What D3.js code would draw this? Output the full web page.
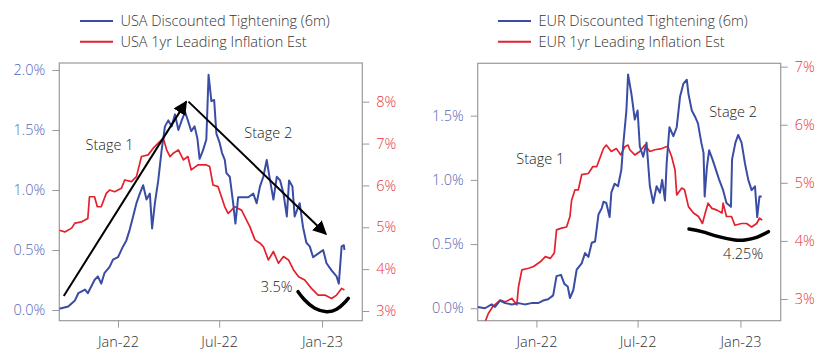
<!DOCTYPE html>
<meta charset="utf-8">
<style>
body { margin: 0; background: #fff; }
text { font-family: "Open Sans", Lato, sans-serif; font-weight: 300; }
</style>
<body>
<script src="https://cdn.jsdelivr.net/npm/d3@7"></script>
<script>

var parseDate = d3.timeParse("%Y-%m-%d");

// shared x range of both panels
var xStart = "2021-09-18", xEnd = "2023-03-14";
var xTickDates = ["2022-01-01", "2022-07-01", "2023-01-01"];

// USA panel
var usaLegend = ["USA Discounted Tightening (6m)", "USA 1yr Leading Inflation Est"];
var usaLeftTicks = [0, 0.5, 1.0, 1.5, 2.0];
var usaRightTicks = [3, 4, 5, 6, 7, 8];
var usaTightening = [
  ["2021-09-18",0.01],["2021-10-04",0.03],["2021-10-16",0.08],["2021-10-22",0.14],["2021-11-03",0.17],
  ["2021-11-08",0.14],["2021-11-20",0.25],["2021-11-26",0.28],["2021-12-02",0.22],["2021-12-08",0.31],
  ["2021-12-17",0.36],["2021-12-23",0.42],["2022-01-01",0.44],["2022-01-10",0.53],["2022-01-16",0.58],
  ["2022-01-22",0.67],["2022-01-28",0.78],["2022-02-03",0.89],["2022-02-09",0.97],["2022-02-15",1.04],
  ["2022-02-21",0.92],["2022-02-27",0.97],["2022-03-03",0.68],["2022-03-08",0.89],["2022-03-14",1.08],
  ["2022-03-20",1.33],["2022-03-26",1.53],["2022-04-01",1.58],["2022-04-07",1.53],["2022-04-13",1.63],
  ["2022-04-19",1.50],["2022-04-25",1.58],["2022-05-01",1.65],["2022-05-06",1.58],["2022-05-12",1.49],
  ["2022-05-18",1.53],["2022-05-23",1.43],["2022-05-27",1.26],["2022-06-02",1.33],["2022-06-08",1.42],
  ["2022-06-12",1.96],["2022-06-17",1.74],["2022-06-22",1.75],["2022-06-26",1.47],["2022-07-02",1.39],
  ["2022-07-06",1.31],["2022-07-11",1.25],["2022-07-14",1.14],["2022-07-20",1.11],["2022-07-26",0.89],
  ["2022-07-30",0.72],["2022-08-04",0.94],["2022-08-13",0.94],["2022-08-22",0.94],["2022-08-31",0.97],
  ["2022-09-06",0.89],["2022-09-12",1.03],["2022-09-18",1.11],["2022-09-24",1.25],["2022-09-30",1.08],
  ["2022-10-06",0.92],["2022-10-12",1.11],["2022-10-18",1.08],["2022-10-24",0.97],["2022-10-30",0.78],
  ["2022-11-03",1.08],["2022-11-09",1.03],["2022-11-13",0.78],["2022-11-22",0.89],["2022-11-28",0.69],
  ["2022-12-04",0.56],["2022-12-10",0.53],["2022-12-16",0.44],["2022-12-25",0.47],["2023-01-03",0.50],
  ["2023-01-09",0.39],["2023-01-18",0.33],["2023-01-27",0.28],["2023-01-31",0.22],["2023-02-05",0.53],
  ["2023-02-09",0.54],["2023-02-10",0.50]
];
var usaInflation = [
  ["2021-09-18",4.93],["2021-09-28",4.89],["2021-10-10",4.98],["2021-10-16",5.10],["2021-10-28",5.13],
  ["2021-11-08",5.21],["2021-11-11",5.73],["2021-11-20",5.73],["2021-11-25",5.49],["2021-12-02",5.49],
  ["2021-12-11",5.81],["2021-12-17",5.89],["2021-12-26",5.85],["2022-01-07",5.93],["2022-01-13",6.13],
  ["2022-01-25",6.09],["2022-02-03",6.21],["2022-02-12",6.69],["2022-02-24",6.73],["2022-03-05",6.89],
  ["2022-03-14",7.01],["2022-03-23",7.13],["2022-03-29",6.85],["2022-04-04",6.69],["2022-04-10",6.77],
  ["2022-04-19",6.85],["2022-04-28",6.61],["2022-05-06",6.69],["2022-05-12",6.37],["2022-05-24",6.49],
  ["2022-06-08",6.49],["2022-06-14",6.45],["2022-06-20",6.01],["2022-06-29",5.97],["2022-07-05",5.73],
  ["2022-07-11",5.49],["2022-07-17",5.33],["2022-07-23",5.41],["2022-07-29",5.49],["2022-08-04",5.45],
  ["2022-08-10",5.41],["2022-08-16",5.25],["2022-08-25",5.01],["2022-09-03",4.70],["2022-09-12",4.62],
  ["2022-09-18",4.54],["2022-09-27",4.22],["2022-10-06",4.42],["2022-10-15",4.14],["2022-10-24",4.30],
  ["2022-11-02",4.22],["2022-11-11",3.98],["2022-11-20",3.82],["2022-12-01",3.74],["2022-12-13",3.54],
  ["2022-12-25",3.38],["2023-01-06",3.38],["2023-01-18",3.30],["2023-01-27",3.38],["2023-02-05",3.54],
  ["2023-02-10",3.50]
];

// EUR panel
var eurLegend = ["EUR Discounted Tightening (6m)", "EUR 1yr Leading Inflation Est"];
var eurLeftTicks = [0, 0.5, 1.0, 1.5];
var eurRightTicks = [3, 4, 5, 6, 7];
var eurTightening = [
  ["2021-09-18",0.01],["2021-10-01",0.00],["2021-10-13",0.03],["2021-10-19",0.01],["2021-10-28",0.06],
  ["2021-11-06",0.04],["2021-11-18",0.03],["2021-11-30",0.04],["2021-12-11",0.03],["2021-12-23",0.04],
  ["2022-01-04",0.04],["2022-01-13",0.06],["2022-01-22",0.07],["2022-01-31",0.10],["2022-02-06",0.25],
  ["2022-02-14",0.26],["2022-02-20",0.19],["2022-02-26",0.17],["2022-03-02",0.08],["2022-03-08",0.14],
  ["2022-03-14",0.30],["2022-03-23",0.35],["2022-03-29",0.43],["2022-04-04",0.40],["2022-04-10",0.51],
  ["2022-04-16",0.52],["2022-04-22",0.73],["2022-04-28",0.78],["2022-05-01",0.83],["2022-05-06",0.82],
  ["2022-05-12",0.71],["2022-05-15",0.90],["2022-05-21",0.97],["2022-05-27",0.95],["2022-06-02",1.08],
  ["2022-06-05",1.26],["2022-06-11",1.54],["2022-06-14",1.82],["2022-06-20",1.67],["2022-06-26",1.47],
  ["2022-07-01",1.54],["2022-07-05",1.26],["2022-07-11",1.18],["2022-07-17",1.29],["2022-07-23",0.95],
  ["2022-07-29",0.82],["2022-08-04",0.95],["2022-08-10",0.90],["2022-08-14",1.00],["2022-08-19",0.84],
  ["2022-08-22",1.13],["2022-08-27",1.41],["2022-09-03",1.34],["2022-09-09",1.41],["2022-09-15",1.65],
  ["2022-09-21",1.75],["2022-09-27",1.78],["2022-09-30",1.67],["2022-10-06",1.54],["2022-10-12",1.49],
  ["2022-10-17",1.44],["2022-10-23",1.29],["2022-10-27",1.21],["2022-10-29",0.87],["2022-11-02",1.10],
  ["2022-11-06",1.23],["2022-11-12",1.16],["2022-11-18",1.08],["2022-11-24",1.00],["2022-12-01",0.92],
  ["2022-12-07",0.82],["2022-12-15",0.79],["2022-12-17",1.16],["2022-12-23",1.29],["2022-12-28",1.35],
  ["2023-01-03",1.29],["2023-01-09",1.13],["2023-01-15",1.00],["2023-01-21",0.92],["2023-01-27",0.95],
  ["2023-01-31",0.71],["2023-02-04",0.87],["2023-02-08",0.87]
];
var eurInflation = [
  ["2021-10-01",2.60],["2021-10-07",2.75],["2021-10-15",2.87],["2021-10-28",2.98],["2021-11-06",2.95],
  ["2021-11-18",3.01],["2021-11-27",2.90],["2021-11-30",3.21],["2021-12-06",3.50],["2021-12-18",3.53],
  ["2021-12-27",3.56],["2022-01-08",3.64],["2022-01-17",3.73],["2022-01-26",3.70],["2022-02-02",3.79],
  ["2022-02-06",4.19],["2022-02-15",4.22],["2022-02-24",4.24],["2022-03-02",4.42],["2022-03-05",4.70],
  ["2022-03-11",4.88],["2022-03-17",4.88],["2022-03-23",5.14],["2022-04-04",5.16],["2022-04-12",5.28],
  ["2022-04-19",5.28],["2022-05-01",5.59],["2022-05-06",5.65],["2022-05-15",5.54],["2022-05-24",5.59],
  ["2022-06-01",5.48],["2022-06-08",5.62],["2022-06-14",5.65],["2022-06-17",5.57],["2022-06-26",5.48],
  ["2022-07-05",5.54],["2022-07-14",5.65],["2022-07-23",5.54],["2022-08-01",5.57],["2022-08-13",5.59],
  ["2022-08-24",5.63],["2022-08-31",5.45],["2022-09-06",5.22],["2022-09-09",4.79],["2022-09-18",4.91],
  ["2022-09-23",4.88],["2022-09-30",4.59],["2022-10-09",4.48],["2022-10-18",4.42],["2022-10-25",4.30],
  ["2022-10-30",4.48],["2022-11-04",4.65],["2022-11-11",4.56],["2022-11-20",4.53],["2022-11-29",4.48],
  ["2022-12-01",4.65],["2022-12-07",4.42],["2022-12-16",4.42],["2022-12-22",4.27],["2023-01-03",4.30],
  ["2023-01-12",4.30],["2023-01-21",4.24],["2023-01-30",4.30],["2023-02-04",4.39],["2023-02-09",4.36]
];

// annotations, in data units (left axis for arrows/text, right axis for the EUR curve)
var usaArrows = [
  [["2021-09-26",0.117],["2022-05-03",1.736]],
  [["2022-05-07",1.736],["2023-01-08",0.633]]
];
var usaCurve = [["2022-11-19",0.153],["2022-12-01",0.083],["2022-12-19",0.014],["2023-01-09",-0.014],
  ["2023-01-27",0.006],["2023-02-10",0.061],["2023-02-17",0.098]];
var usaNotes = [["Stage 1","2021-11-04",1.333,"start"],["Stage 2","2022-08-15",1.433,"start"],["3.5%","2022-11-09",0.153,"end"]];
var eurCurve = [["2022-10-01",4.205],["2022-10-24",4.159],["2022-11-23",4.073],["2022-12-22",4.016],
  ["2023-01-09",4.016],["2023-01-30",4.062],["2023-02-20",4.159]];
var eurNotes = [["Stage 1","2021-11-26",1.121,"start"],["Stage 2","2022-11-06",1.492,"start"],["4.25%","2022-12-01",0.384,"start"]];

var blue = "#3a4da5", red = "#e4202d", blueText = "#5567b5", redText = "#e5353d", grey = "#9a9a9a";
var fontSize = 14.5;

var svg = d3.select("body").append("svg")
    .attr("width", 840)
    .attr("height", 360);

svg.append("defs").append("marker")
    .attr("id", "arrow")
    .attr("viewBox", "0 0 10 10")
    .attr("refX", 9).attr("refY", 5)
    .attr("markerWidth", 7).attr("markerHeight", 7)
    .attr("markerUnits", "strokeWidth")
    .attr("orient", "auto")
  .append("path")
    .attr("d", "M0,0L10,5L0,10z")
    .attr("fill", "#000");

var panels = [
  {id: "usa", left: 59.3, right: 362.3, top: 63, bottom: 320.7, legendX: 80,
   leftDomain: [-0.089, 2.058], rightDomain: [2.768, 8.925],
   legend: usaLegend, leftTicks: usaLeftTicks, rightTicks: usaRightTicks,
   tight: usaTightening, infl: usaInflation, arrows: usaArrows, curve: usaCurve, curveAxis: "left", notes: usaNotes},
  {id: "eur", left: 477.7, right: 780.7, top: 63.3, bottom: 320.7, legendX: 498,
   leftDomain: [-0.097, 1.908], rightDomain: [2.626, 7.058],
   legend: eurLegend, leftTicks: eurLeftTicks, rightTicks: eurRightTicks,
   tight: eurTightening, infl: eurInflation, arrows: [], curve: eurCurve, curveAxis: "right", notes: eurNotes}
];

panels.forEach(function(p) {
  var x = d3.scaleTime()
      .domain([parseDate(xStart), parseDate(xEnd)])
      .range([p.left, p.right]);
  var yL = d3.scaleLinear().domain(p.leftDomain).range([p.bottom, p.top]);
  var yR = d3.scaleLinear().domain(p.rightDomain).range([p.bottom, p.top]);

  // legend
  var leg = svg.append("g");
  [blue, red].forEach(function(c, i) {
    leg.append("line")
      .attr("x1", p.legendX).attr("x2", p.legendX + 33)
      .attr("y1", 21 + i * 20.7).attr("y2", 21 + i * 20.7)
      .attr("stroke", c).attr("stroke-width", 2);
    leg.append("text")
      .attr("x", p.legendX + 40.5).attr("y", 26 + i * 20.7)
      .attr("font-size", fontSize).attr("fill", "#333")
      .text(p.legend[i]);
  });

  // axes
  var gx = svg.append("g")
      .attr("transform", "translate(0," + p.bottom + ")")
      .call(d3.axisBottom(x)
        .tickValues(xTickDates.map(parseDate))
        .tickFormat(d3.timeFormat("%b-%y"))
        .tickSize(7).tickSizeOuter(0).tickPadding(9));
  var gl = svg.append("g")
      .attr("transform", "translate(" + p.left + ",0)")
      .call(d3.axisLeft(yL)
        .tickValues(p.leftTicks)
        .tickFormat(function(d) { return d3.format(".1f")(d) + "%"; })
        .tickSize(7).tickSizeOuter(0).tickPadding(7));
  var gr = svg.append("g")
      .attr("transform", "translate(" + p.right + ",0)")
      .call(d3.axisRight(yR)
        .tickValues(p.rightTicks)
        .tickFormat(function(d) { return d + "%"; })
        .tickSize(7).tickSizeOuter(0).tickPadding(7));

  [gx, gl, gr].forEach(function(g) {
    g.select(".domain").remove();
    g.selectAll(".tick line").attr("stroke", grey);
    g.selectAll(".tick text").attr("font-size", fontSize).attr("font-family", null);
  });
  gx.selectAll(".tick text").attr("fill", "#333");
  gl.selectAll(".tick text").attr("fill", blueText);
  gr.selectAll(".tick text").attr("fill", redText);

  // plot box
  svg.append("rect")
    .attr("x", p.left).attr("y", p.top)
    .attr("width", p.right - p.left).attr("height", p.bottom - p.top)
    .attr("fill", "none").attr("stroke", grey).attr("stroke-width", 1.2);

  svg.append("clipPath").attr("id", "clip-" + p.id)
    .append("rect")
    .attr("x", p.left).attr("y", p.top)
    .attr("width", p.right - p.left).attr("height", p.bottom - p.top);

  var plot = svg.append("g").attr("clip-path", "url(#clip-" + p.id + ")");

  var lineL = d3.line()
      .x(function(d) { return x(parseDate(d[0])); })
      .y(function(d) { return yL(d[1]); });
  var lineR = d3.line()
      .x(function(d) { return x(parseDate(d[0])); })
      .y(function(d) { return yR(d[1]); });

  plot.append("path")
    .datum(p.infl)
    .attr("d", lineR)
    .attr("fill", "none").attr("stroke", red).attr("stroke-width", 1.7)
    .attr("stroke-linejoin", "round");
  plot.append("path")
    .datum(p.tight)
    .attr("d", lineL)
    .attr("fill", "none").attr("stroke", blue).attr("stroke-width", 2)
    .attr("stroke-linejoin", "round");

  // annotations
  p.arrows.forEach(function(a) {
    svg.append("line")
      .attr("x1", x(parseDate(a[0][0]))).attr("y1", yL(a[0][1]))
      .attr("x2", x(parseDate(a[1][0]))).attr("y2", yL(a[1][1]))
      .attr("stroke", "#000").attr("stroke-width", 2)
      .attr("marker-end", "url(#arrow)");
  });

  var yc = p.curveAxis == "left" ? yL : yR;
  svg.append("path")
    .datum(p.curve)
    .attr("d", d3.line()
      .x(function(d) { return x(parseDate(d[0])); })
      .y(function(d) { return yc(d[1]); })
      .curve(d3.curveNatural))
    .attr("fill", "none").attr("stroke", "#000").attr("stroke-width", 3.5)
    .attr("stroke-linecap", "round");

  p.notes.forEach(function(n) {
    svg.append("text")
      .attr("x", x(parseDate(n[1]))).attr("y", yL(n[2]))
      .attr("text-anchor", n[3])
      .attr("font-size", fontSize).attr("fill", "#222")
      .text(n[0]);
  });
});

</script>
</body>
